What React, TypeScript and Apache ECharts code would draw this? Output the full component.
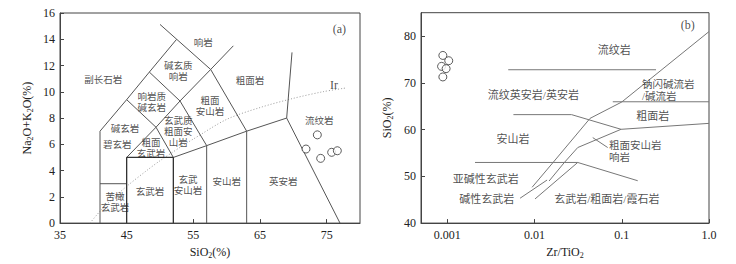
import React, { useEffect, useRef } from "react";
import * as echarts from "echarts";

// ---------- Panel (a): TAS diagram ----------
const tasXTicks = [35, 45, 55, 65, 75];
const tasYMin = 0;
const tasYMax = 16;
const tasSamples = [
  [73.6, 6.72],
  [71.9, 5.64],
  [74.1, 4.93],
  [75.75, 5.39],
  [76.6, 5.51],
];
const tasLines = [
  [[41, 0], [41, 7], [45, 9.4], [48.4, 11.5], [52.5, 14]],
  [[50, 15.13], [52.5, 14], [57.6, 11.7], [63, 7], [63, 0]],
  [[41, 3], [45, 3]],
  [[45, 9.4], [49.4, 7.3], [52, 5]],
  [[45, 5], [49.4, 7.3], [53, 9.3], [57.6, 11.7], [61, 13.5]],
  [[48.4, 11.5], [53, 9.3], [57, 5.9], [57, 0]],
  [[52, 5], [57, 5.9], [63, 7], [69, 8], [77, 0]],
  [[69, 8], [69.8, 13]],
];
const tasBasaltBox = [[45, 0], [45, 5], [52, 5], [52, 0]];
const irvineCurve = [
  [39.5, 0], [41, 0.9], [43.2, 2], [45, 2.8], [48, 4], [50, 4.75], [53.7, 6],
  [55, 6.4], [60, 7.9], [65, 8.8], [70, 9.5], [74.4, 10], [78, 10.3],
];
const tasLabels: [string, number, number][] = [
  ["响岩", 56.5, 13.7],
  ["副长石岩", 41.5, 10.93],
  ["碱玄质\n响岩", 52.75, 11.55],
  ["响岩质\n碱玄岩", 48.75, 9.17],
  ["碱玄岩", 44.75, 7.2],
  ["碧玄岩", 43.6, 5.94],
  ["粗面\n玄武岩", 48.65, 5.67],
  ["玄武质\n粗面安\n山岩", 52.75, 6.94],
  ["粗面\n安山岩", 57.5, 8.91],
  ["粗面岩", 63.5, 10.8],
  ["流纹岩", 73.9, 7.75],
  ["英安岩", 68.5, 3.12],
  ["安山岩", 60, 3.12],
  ["玄武\n安山岩", 54.2, 2.86],
  ["玄武岩", 48.5, 2.36],
  ["苦橄\n玄武岩", 43.25, 1.57],
];
const tasLatinLabels: [string, number, number][] = [
  ["(a)", 76.9, 14.77],
  ["Ir", 76.1, 10.5],
];

// ---------- Panel (b): Zr/TiO2 vs SiO2 ----------
const zrTickValues = [0.001, 0.01, 0.1, 1];
const zrTickLabels = ["0.001", "0.01", "0.1", "1.0"];
const zrMin = 0.0005;
const zrMax = 1;
const siYTicks = [40, 50, 60, 70, 80];
const zrSamples = [
  [0.00089, 75.86],
  [0.00104, 74.73],
  [0.00086, 73.52],
  [0.00097, 73.03],
  [0.00089, 71.26],
];
const wfLines = [
  [[0.005, 72.8], [0.247, 72.8]],
  [[0.00573, 63.2], [0.0266, 63.2], [0.0982, 60.06], [1.0, 61.33]],
  [[0.0789, 65.95], [1.0, 65.95]],
  [[1.0, 80.96], [0.1, 65.9], [0.0433, 62.4], [0.01633, 52.97], [0.00938, 47.66]],
  [[0.0982, 60.06], [0.0313, 56.16], [0.022, 52.97], [0.01469, 49.0]],
  [[0.00208, 52.97], [0.0313, 52.97], [0.1524, 49.06]],
  [[0.0313, 52.97], [0.01014, 45.17]],
  [[0.00683, 45.32], [0.01393, 49.21]],
  [[0.0465, 58.29], [0.069, 56.16]],
];
const wfLabels: [string, number, number][] = [
  ["流纹岩", 0.0822, 77.07],
  ["粗面岩", 0.2265, 62.88],
  ["流纹英安岩/英安岩", 0.0097, 67.5],
  ["安山岩", 0.00567, 57.93],
  ["亚碱性玄武岩", 0.00277, 49.42],
  ["碱性玄武岩", 0.00284, 45.17],
  ["玄武岩/粗面岩/霞石岩", 0.0675, 45.17],
];
const wfLeftLabels: [string, number, number][] = [
  ["钠闪碱流岩\n/碱流岩", 0.1706, 68.35],
  ["粗面安山岩\n响岩", 0.0715, 55.27],
];
const wfLatinLabels: [string, number, number][] = [["(b)", 0.57, 82.39]];

const serif = '"Liberation Serif", "Times New Roman", serif';
const cjk = '"Liberation Serif", "Noto Sans CJK SC", "Noto Sans CJK JP", serif';
const textColor = "#222";
const axisColor = "#444";

const lg = (v: number) => Math.log10(v);

const nameRich = {
  t: { fontSize: 12, fontFamily: serif, color: textColor, lineHeight: 14, verticalAlign: "middle" },
  s: { fontSize: 8, fontFamily: serif, color: textColor, lineHeight: 7, verticalAlign: "bottom" },
};

function lineSeries(polys: number[][][], idx: number, color: string, width: number, tx: (v: number) => number) {
  return polys.map((p) => ({
    type: "line",
    xAxisIndex: idx,
    yAxisIndex: idx,
    data: p.map(([x, y]) => [tx(x), y]),
    symbol: "none",
    silent: true,
    lineStyle: { color, width },
    z: 2,
  }));
}

function labelSeries(
  labels: [string, number, number][],
  idx: number,
  tx: (v: number) => number,
  font: string,
  size: number,
  lh: number,
  align: string
) {
  return {
    type: "scatter",
    xAxisIndex: idx,
    yAxisIndex: idx,
    symbolSize: 1,
    silent: true,
    itemStyle: { color: "rgba(0,0,0,0)" },
    data: labels.map(([n, x, y]) => ({ name: n, value: [tx(x), y] })),
    label: {
      show: true,
      position: "inside",
      formatter: "{b}",
      fontSize: size,
      fontFamily: font,
      color: textColor,
      lineHeight: lh,
      align,
      verticalAlign: "middle",
    },
    z: 5,
  };
}

function sampleSeries(pts: number[][], idx: number, tx: (v: number) => number) {
  return {
    type: "scatter",
    xAxisIndex: idx,
    yAxisIndex: idx,
    symbol: "circle",
    symbolSize: 8,
    data: pts.map(([x, y]) => [tx(x), y]),
    itemStyle: { color: "#fff", borderColor: "#333", borderWidth: 1 },
    z: 6,
  };
}

const idf = (v: number) => v;

export default function App() {
  const ref = useRef<HTMLDivElement>(null);
  useEffect(() => {
    if (!ref.current) return;
    const chart = echarts.init(ref.current, undefined, { renderer: "svg" });
    const tickLabelStyle = { fontSize: 12, fontFamily: serif, color: textColor };
    const option: any = {
      animation: false,
      backgroundColor: "#fff",
      grid: [
        { left: 60, top: 13, width: 300, height: 211.5, show: true, borderColor: axisColor, borderWidth: 1, backgroundColor: "transparent" },
        { left: 421, top: 12.7, width: 288, height: 211.6, show: true, borderColor: axisColor, borderWidth: 1, backgroundColor: "transparent" },
      ],
      xAxis: [
        {
          gridIndex: 0,
          type: "value",
          min: 35,
          max: 80,
          axisLine: { onZero: false, lineStyle: { color: axisColor } },
          axisTick: { inside: true, length: 4, customValues: tasXTicks, lineStyle: { color: axisColor } },
          axisLabel: { ...tickLabelStyle, margin: 6, customValues: tasXTicks },
          splitLine: { show: false },
          name: "{t|SiO}{s|2}{t|(%)}",
          nameLocation: "middle",
          nameGap: 20,
          nameTextStyle: { rich: nameRich },
        },
        {
          gridIndex: 1,
          type: "value",
          min: lg(zrMin),
          max: lg(zrMax),
          axisLine: { onZero: false, lineStyle: { color: axisColor } },
          axisTick: { inside: true, length: 4, customValues: zrTickValues.map(lg), lineStyle: { color: axisColor } },
          axisLabel: {
            ...tickLabelStyle,
            margin: 6,
            customValues: zrTickValues.map(lg),
            formatter: (v: number) => {
              const i = zrTickValues.findIndex((t) => Math.abs(lg(t) - v) < 1e-6);
              return i >= 0 ? zrTickLabels[i] : "";
            },
          },
          splitLine: { show: false },
          name: "{t|Zr/TiO}{s|2}",
          nameLocation: "middle",
          nameGap: 20,
          nameTextStyle: { rich: nameRich },
        },
      ],
      yAxis: [
        {
          gridIndex: 0,
          type: "value",
          min: tasYMin,
          max: tasYMax,
          interval: 2,
          axisLine: { onZero: false, lineStyle: { color: axisColor } },
          axisTick: { inside: true, length: 4, lineStyle: { color: axisColor } },
          axisLabel: { ...tickLabelStyle, margin: 5 },
          splitLine: { show: false },
          name: "{t|Na}{s|2}{t|O+K}{s|2}{t|O(%)}",
          nameLocation: "middle",
          nameRotate: 90,
          nameGap: 26,
          nameTextStyle: { rich: nameRich },
        },
        {
          gridIndex: 1,
          type: "value",
          min: 40,
          max: 85,
          axisLine: { onZero: false, lineStyle: { color: axisColor } },
          axisTick: { inside: true, length: 4, customValues: siYTicks, lineStyle: { color: axisColor } },
          axisLabel: { ...tickLabelStyle, margin: 5, customValues: siYTicks },
          splitLine: { show: false },
          name: "{t|SiO}{s|2}{t|(%)}",
          nameLocation: "middle",
          nameRotate: 90,
          nameGap: 27,
          nameTextStyle: { rich: nameRich },
        },
      ],
      series: [
        ...lineSeries(tasLines, 0, "#555", 1, idf),
        ...lineSeries([tasBasaltBox], 0, "#333", 1.3, idf),
        {
          type: "line",
          xAxisIndex: 0,
          yAxisIndex: 0,
          data: irvineCurve,
          symbol: "none",
          smooth: 0.3,
          silent: true,
          lineStyle: { color: "#999", width: 1, type: [1, 2] },
          z: 1,
        },
        labelSeries(tasLabels, 0, idf, cjk, 9.5, 11.2, "center"),
        labelSeries(tasLatinLabels, 0, idf, serif, 12, 14, "center"),
        sampleSeries(tasSamples, 0, idf),
        ...lineSeries(wfLines, 1, "#777", 1, lg),
        labelSeries(wfLabels, 1, lg, cjk, 11, 13, "center"),
        labelSeries(wfLeftLabels, 1, lg, cjk, 10.5, 12.2, "left"),
        labelSeries(wfLatinLabels, 1, lg, serif, 12, 14.5, "center"),
        sampleSeries(zrSamples, 1, lg),
      ],
    };
    chart.setOption(option);
    return () => chart.dispose();
  }, []);
  return <div ref={ref} style={{ position: "fixed", left: 0, top: 0, width: 736, height: 264 }} />;
}
